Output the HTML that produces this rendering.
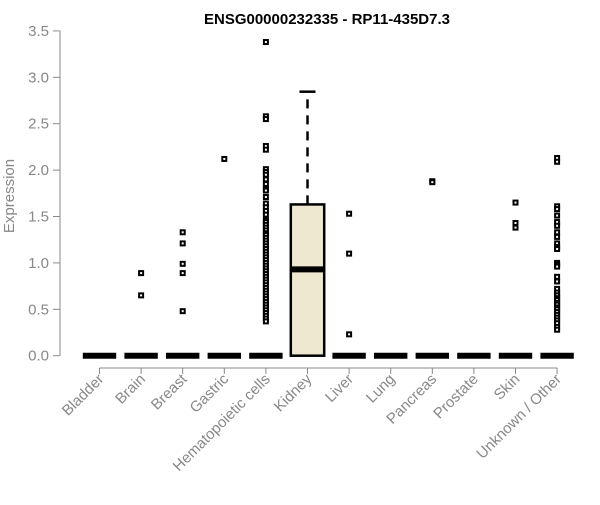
<!DOCTYPE html>
<html><head><meta charset="utf-8"><style>
body{margin:0;background:#fff}
svg{font-family:"Liberation Sans",Arial,sans-serif}
</style></head><body>
<svg id="chart" width="600" height="500">
<text x="327" y="24" text-anchor="middle" font-weight="bold" font-size="15">ENSG00000232335 - RP11-435D7.3</text>
<text transform="translate(14,196) rotate(-90)" text-anchor="middle" font-size="15" fill="#888">Expression</text>
<g id="yaxis"></g>
<g id="xaxis"></g>
<g id="plot"></g>
</svg>
<script>
const categories=["Bladder","Brain","Breast","Gastric","Hematopoietic cells","Kidney","Liver","Lung","Pancreas","Prostate","Skin","Unknown / Other"];
const q1=[0,0,0,0,0,0,0,0,0,0,0,0];
const medians=[0,0,0,0,0,0.93,0,0,0,0,0,0];
const q3=[0,0,0,0,0,1.63,0,0,0,0,0,0];
const whiskerHigh=[0,0,0,0,0,2.845,0,0,0,0,0,0];
const outliers=[
[],
[0.89,0.65],
[1.33,1.21,0.99,0.89,0.48],
[2.12],
[3.38,2.58,2.55,2.26,2.22,2.01,1.98,1.95,1.9,1.85,1.8,1.78,1.71,1.64,1.6,1.56,1.52,1.46,1.44,1.41,1.38,1.35,1.32,1.3,1.27,1.24,1.21,1.18,1.15,1.12,1.09,1.06,1.03,1.0,0.97,0.94,0.91,0.88,0.85,0.82,0.79,0.76,0.73,0.7,0.67,0.64,0.61,0.58,0.55,0.52,0.49,0.46,0.43,0.4,0.37],
[],
[1.53,1.1,0.23],
[],
[1.88,1.87],
[],
[1.65,1.43,1.38],
[2.13,2.09,1.61,1.58,1.51,1.44,1.4,1.33,1.28,1.21,1.17,1.15,1.0,0.98,0.96,0.85,0.8,0.72,0.68,0.65,0.62,0.6,0.57,0.55,0.52,0.5,0.47,0.44,0.41,0.38,0.35,0.31,0.28]
];
const yTicks=[0,0.5,1,1.5,2,2.5,3,3.5];
const NS="http://www.w3.org/2000/svg";
function y(v){return 355.7-v*92.8;}
function x(i){return 99.5+i*41.6;}
function mk(parent,tag,attrs){const e=document.createElementNS(NS,tag);for(const k in attrs)e.setAttribute(k,attrs[k]);parent.appendChild(e);return e;}
const ya=document.getElementById('yaxis'),xa=document.getElementById('xaxis'),pl=document.getElementById('plot');
mk(ya,'line',{x1:60,x2:60,y1:y(0),y2:y(3.5),stroke:'#888'});
yTicks.forEach(t=>{
 const l=mk(ya,'line',{x1:53,x2:60,y1:y(t),y2:y(t),stroke:'#888'});
 
 
 const tx=mk(ya,'text',{x:49,y:y(t)+5,'text-anchor':'end','font-size':15,fill:'#888'});
 tx.textContent=t.toFixed(1);
 
 
});
mk(xa,'line',{x1:x(0),x2:x(categories.length-1),y1:368,y2:368,stroke:'#888'});
categories.forEach((c,i)=>{
 const cx=x(i);
 const tk=mk(xa,'line',{x1:cx,x2:cx,y1:368,y2:374,stroke:'#888'});
 
 
 const tx=mk(xa,'text',{transform:`translate(${cx+5},${380}) rotate(-45)`,'text-anchor':'end','font-size':15,fill:'#888'});
 tx.textContent=c;
 
 
 const g=mk(pl,'g',{});
 
 
 const hw=16.7;
 if(q3[i]>q1[i]){
  mk(g,'line',{x1:cx,x2:cx,y1:y(q3[i]),y2:y(whiskerHigh[i]),stroke:'#000','stroke-width':2.5,'stroke-dasharray':'9,7'});
  mk(g,'line',{x1:cx-8,x2:cx+8,y1:y(whiskerHigh[i]),y2:y(whiskerHigh[i]),stroke:'#000','stroke-width':2.5});
  mk(g,'rect',{x:cx-hw,y:y(q3[i]),width:2*hw,height:y(q1[i])-y(q3[i]),fill:'#ede8cf',stroke:'#000','stroke-width':2.5});
 }
 mk(g,'line',{x1:cx-hw,x2:cx+hw,y1:y(medians[i]),y2:y(medians[i]),stroke:'#000','stroke-width':6});
 outliers[i].forEach(v=>{
  const p=mk(g,'rect',{x:cx-2,y:y(v)-2,width:4,height:4,fill:'#fff',stroke:'#000','stroke-width':2});
  
  
 });
});
</script>
</body></html>
